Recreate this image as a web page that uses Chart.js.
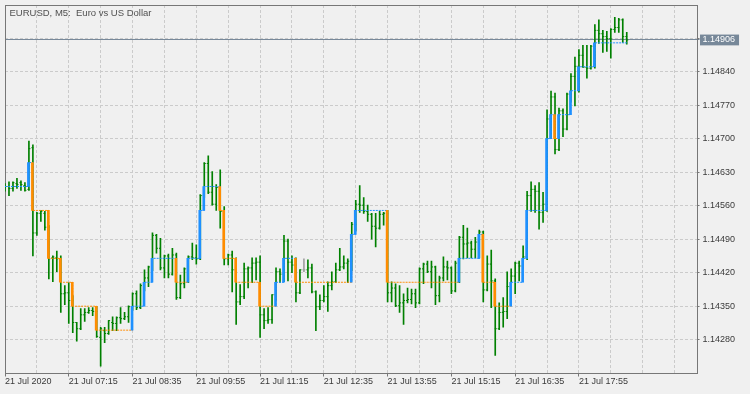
<!DOCTYPE html>
<html>
<head>
<meta charset="utf-8">
<title>EURUSD, M5</title>
<script src="https://cdn.jsdelivr.net/npm/chart.js@4.4.1/dist/chart.umd.min.js"></script>
<style>
  html, body { margin: 0; padding: 0; background: #f0f0f0; }
  canvas { display: block; }
</style>
</head>
<body>
<canvas id="chart" width="750" height="394"></canvas>
<script>
const symbolTitle = 'EURUSD, M5:  Euro vs US Dollar';

// M5 bars, 21 Jul 2020 05:55 .. 18:55
const opens = [
  1.14598, 1.14600, 1.14596, 1.14606, 1.14608, 1.14602, 1.14594, 1.14681, 1.14503, 1.14544,
  1.14544, 1.14515, 1.14451, 1.14451, 1.14449, 1.14376, 1.14378, 1.14362, 1.14316, 1.14303,
  1.14332, 1.14337, 1.14341, 1.14339, 1.14285, 1.14299, 1.14293, 1.14316, 1.14314, 1.14326,
  1.14324, 1.14328, 1.14349, 1.14376, 1.14347, 1.14393, 1.14409, 1.14432, 1.14498, 1.14471,
  1.14430, 1.14455, 1.14417, 1.14457, 1.14368, 1.14397, 1.14428, 1.14453, 1.14451, 1.14449,
  1.14581, 1.14648, 1.14588, 1.14563, 1.14598, 1.14548, 1.14449, 1.14457, 1.14426, 1.14359,
  1.14370, 1.14428, 1.14430, 1.14440, 1.14442, 1.14332, 1.14320, 1.14322, 1.14374, 1.14422,
  1.14417, 1.14486, 1.14442, 1.14436, 1.14378, 1.14426, 1.14426, 1.14430, 1.14380, 1.14349,
  1.14362, 1.14370, 1.14393, 1.14401, 1.14426, 1.14432, 1.14440, 1.14444, 1.14521, 1.14563,
  1.14561, 1.14548, 1.14542, 1.14517, 1.14513, 1.14542, 1.14544, 1.14378, 1.14388, 1.14351,
  1.14357, 1.14362, 1.14364, 1.14376, 1.14357, 1.14428, 1.14438, 1.14422, 1.14432, 1.14372,
  1.14409, 1.14432, 1.14430, 1.14382, 1.14440, 1.14494, 1.14480, 1.14482, 1.14469, 1.14484,
  1.14505, 1.14384, 1.14438, 1.14403, 1.14303, 1.14337, 1.14339, 1.14391, 1.14413, 1.14440,
  1.14434, 1.14453, 1.14581, 1.14594, 1.14590, 1.14546, 1.14563, 1.14741, 1.14787, 1.14677,
  1.14758, 1.14720, 1.14793, 1.14830, 1.14851, 1.14874, 1.14849, 1.14847, 1.14893, 1.14926,
  1.14919, 1.14913, 1.14909, 1.14928, 1.14932, 1.14948, 1.14913
];
const highs = [
  1.14606, 1.14610, 1.14610, 1.14617, 1.14612, 1.14608, 1.14695, 1.14687, 1.14546, 1.14550,
  1.14548, 1.14519, 1.14455, 1.14465, 1.14455, 1.14393, 1.14399, 1.14372, 1.14316, 1.14345,
  1.14345, 1.14347, 1.14347, 1.14349, 1.14306, 1.14306, 1.14320, 1.14328, 1.14328, 1.14347,
  1.14337, 1.14351, 1.14378, 1.14382, 1.14397, 1.14426, 1.14434, 1.14503, 1.14500, 1.14492,
  1.14457, 1.14459, 1.14471, 1.14461, 1.14415, 1.14430, 1.14455, 1.14482, 1.14478, 1.14583,
  1.14650, 1.14664, 1.14631, 1.14604, 1.14635, 1.14558, 1.14459, 1.14465, 1.14451, 1.14395,
  1.14440, 1.14432, 1.14451, 1.14451, 1.14455, 1.14345, 1.14347, 1.14374, 1.14430, 1.14428,
  1.14498, 1.14490, 1.14455, 1.14451, 1.14426, 1.14449, 1.14447, 1.14438, 1.14382, 1.14374,
  1.14393, 1.14401, 1.14422, 1.14440, 1.14471, 1.14455, 1.14449, 1.14525, 1.14571, 1.14602,
  1.14577, 1.14561, 1.14544, 1.14544, 1.14548, 1.14546, 1.14550, 1.14401, 1.14397, 1.14393,
  1.14376, 1.14388, 1.14386, 1.14386, 1.14430, 1.14440, 1.14444, 1.14444, 1.14434, 1.14413,
  1.14453, 1.14444, 1.14432, 1.14444, 1.14496, 1.14519, 1.14513, 1.14486, 1.14494, 1.14509,
  1.14507, 1.14455, 1.14467, 1.14407, 1.14357, 1.14368, 1.14422, 1.14428, 1.14442, 1.14444,
  1.14476, 1.14590, 1.14610, 1.14602, 1.14608, 1.14588, 1.14760, 1.14799, 1.14795, 1.14764,
  1.14762, 1.14795, 1.14836, 1.14870, 1.14886, 1.14895, 1.14895, 1.14895, 1.14938, 1.14948,
  1.14926, 1.14924, 1.14930, 1.14953, 1.14951, 1.14950, 1.14922
];
const lows = [
  1.14590, 1.14581, 1.14590, 1.14596, 1.14592, 1.14590, 1.14592, 1.14455, 1.14498, 1.14527,
  1.14509, 1.14407, 1.14401, 1.14422, 1.14337, 1.14353, 1.14314, 1.14295, 1.14277, 1.14301,
  1.14318, 1.14335, 1.14330, 1.14285, 1.14225, 1.14274, 1.14291, 1.14299, 1.14299, 1.14314,
  1.14322, 1.14316, 1.14341, 1.14343, 1.14345, 1.14382, 1.14391, 1.14424, 1.14461, 1.14426,
  1.14409, 1.14409, 1.14415, 1.14364, 1.14366, 1.14388, 1.14399, 1.14447, 1.14438, 1.14447,
  1.14577, 1.14585, 1.14561, 1.14550, 1.14513, 1.14436, 1.14436, 1.14380, 1.14312, 1.14353,
  1.14366, 1.14388, 1.14399, 1.14405, 1.14285, 1.14303, 1.14314, 1.14314, 1.14362, 1.14399,
  1.14401, 1.14403, 1.14420, 1.14359, 1.14376, 1.14422, 1.14409, 1.14378, 1.14299, 1.14343,
  1.14359, 1.14339, 1.14384, 1.14399, 1.14424, 1.14428, 1.14399, 1.14424, 1.14507, 1.14546,
  1.14544, 1.14527, 1.14490, 1.14474, 1.14511, 1.14519, 1.14359, 1.14359, 1.14349, 1.14337,
  1.14312, 1.14357, 1.14355, 1.14347, 1.14355, 1.14397, 1.14420, 1.14388, 1.14353, 1.14359,
  1.14403, 1.14405, 1.14376, 1.14380, 1.14399, 1.14449, 1.14451, 1.14451, 1.14451, 1.14451,
  1.14359, 1.14382, 1.14347, 1.14247, 1.14301, 1.14306, 1.14324, 1.14362, 1.14376, 1.14403,
  1.14428, 1.14447, 1.14548, 1.14546, 1.14511, 1.14525, 1.14548, 1.14700, 1.14668, 1.14675,
  1.14704, 1.14718, 1.14776, 1.14768, 1.14797, 1.14849, 1.14826, 1.14845, 1.14847, 1.14899,
  1.14880, 1.14882, 1.14868, 1.14922, 1.14922, 1.14901, 1.14897
];
const closes = [
  1.14600, 1.14596, 1.14608, 1.14604, 1.14604, 1.14592, 1.14679, 1.14503, 1.14544, 1.14548,
  1.14515, 1.14449, 1.14453, 1.14449, 1.14376, 1.14378, 1.14362, 1.14316, 1.14303, 1.14332,
  1.14337, 1.14341, 1.14339, 1.14287, 1.14303, 1.14293, 1.14320, 1.14314, 1.14326, 1.14324,
  1.14328, 1.14349, 1.14376, 1.14347, 1.14393, 1.14409, 1.14432, 1.14498, 1.14471, 1.14430,
  1.14455, 1.14417, 1.14457, 1.14368, 1.14397, 1.14428, 1.14453, 1.14451, 1.14449, 1.14581,
  1.14648, 1.14588, 1.14563, 1.14598, 1.14548, 1.14449, 1.14457, 1.14426, 1.14359, 1.14370,
  1.14428, 1.14430, 1.14440, 1.14442, 1.14332, 1.14320, 1.14322, 1.14374, 1.14422, 1.14417,
  1.14486, 1.14442, 1.14436, 1.14378, 1.14426, 1.14426, 1.14430, 1.14380, 1.14349, 1.14362,
  1.14370, 1.14393, 1.14401, 1.14426, 1.14432, 1.14440, 1.14444, 1.14521, 1.14563, 1.14561,
  1.14548, 1.14542, 1.14517, 1.14513, 1.14542, 1.14544, 1.14378, 1.14388, 1.14351, 1.14357,
  1.14362, 1.14364, 1.14376, 1.14357, 1.14428, 1.14438, 1.14422, 1.14432, 1.14372, 1.14409,
  1.14432, 1.14430, 1.14382, 1.14440, 1.14494, 1.14480, 1.14482, 1.14469, 1.14484, 1.14505,
  1.14384, 1.14438, 1.14403, 1.14303, 1.14337, 1.14339, 1.14391, 1.14413, 1.14440, 1.14434,
  1.14453, 1.14581, 1.14594, 1.14590, 1.14546, 1.14563, 1.14741, 1.14787, 1.14677, 1.14758,
  1.14720, 1.14793, 1.14830, 1.14851, 1.14874, 1.14849, 1.14847, 1.14893, 1.14926, 1.14919,
  1.14913, 1.14909, 1.14928, 1.14932, 1.14948, 1.14913, 1.14906
];

// time scale labels and the bar they sit on
const timeLabels = ['21 Jul 2020', '21 Jul 07:15', '21 Jul 08:35', '21 Jul 09:55', '21 Jul 11:15',
                    '21 Jul 12:35', '21 Jul 13:55', '21 Jul 15:15', '21 Jul 16:35', '21 Jul 17:55'];
const timeLabelBars = [0, 16, 32, 48, 64, 80, 96, 112, 128, 144];

const priceTicks = [1.14280, 1.14350, 1.14420, 1.14490, 1.14560, 1.14630, 1.14700, 1.14770, 1.14840, 1.14910];

// 5 pip renko line: bar where a new level starts, and that level
const brickBars = [0, 6, 7, 11, 14, 17, 23, 32, 35, 37,
                   43, 46, 49, 50, 54, 55, 58, 64, 68, 70,
                   73, 87, 88, 96, 114, 119, 120, 123, 127, 130,
                   131, 136, 137, 138, 139, 142, 144, 148];
const brickLevels = [1.14600, 1.14650, 1.14550, 1.14450, 1.14400, 1.14350, 1.14300, 1.14350, 1.14400, 1.14450,
                     1.14400, 1.14450, 1.14550, 1.14600, 1.14550, 1.14450, 1.14400, 1.14350, 1.14400, 1.14450,
                     1.14400, 1.14500, 1.14550, 1.14400, 1.14450, 1.14500, 1.14400, 1.14350, 1.14400, 1.14450,
                     1.14550, 1.14700, 1.14750, 1.14700, 1.14750, 1.14800, 1.14850, 1.14900];

const GREEN = '#008000', DOJI = '#a0a0a0', BLUE = '#1e90ff', ORANGE = '#ff8c00', BID = '#778899';
const GRID = '#cbcbcb', FRAME = '#777777', TEXT = '#3a3a3a';
const FONT = { family: 'Liberation Sans', size: 9 };

const lastPrice = closes[closes.length - 1];
const barColors = opens.map((o, i) => o === closes[i] ? DOJI : GREEN);

// level of the renko line on every bar, and whether it got there going up
const levels = [], ups = [];
let k = 0;
for (let i = 0; i < opens.length; i++) {
    while (k + 1 < brickBars.length && brickBars[k + 1] <= i) k++;
    levels.push(brickLevels[k]);
    ups.push(k === 0 || brickLevels[k] > brickLevels[k - 1]); // first brick came from below
}

const titlePlugin = {
    id: 'symbolTitle',
    afterDraw(chart) {
        const { ctx, chartArea } = chart;
        ctx.save();
        ctx.font = '9.5px "Liberation Sans"';
        ctx.fillStyle = '#505050';
        ctx.textBaseline = 'alphabetic';
        ctx.fillText(symbolTitle, chartArea.left + 4.5, chartArea.top + 10.7);
        ctx.restore();
    }
};

// keep the plot frame where it is, labels may hang over the edges
const noPad = s => { s.paddingTop = 0; s.paddingBottom = 0; s.paddingLeft = 0; s.paddingRight = 0; };

new Chart(document.getElementById('chart'), {
    type: 'bar',
    data: {
        datasets: [
            {
                // renko jumps
                type: 'bar',
                data: brickBars.slice(1).map((b, j) => ({ x: b - 0.125, y: [brickLevels[j], brickLevels[j + 1]] })),
                backgroundColor: brickBars.slice(1).map((b, j) => brickLevels[j + 1] > brickLevels[j] ? BLUE : ORANGE),
                barThickness: 2,
                grouped: false,
                order: 0
            },
            {
                // renko level, dotted
                type: 'line',
                data: levels.map((v, i) => ({ x: i, y: v })),
                stepped: true,
                borderWidth: 1,
                borderDash: [2, 1],
                pointRadius: 0,
                fill: false,
                segment: { borderColor: c => ups[c.p0DataIndex] ? BLUE : ORANGE },
                order: 1
            },
            {
                type: 'line',
                data: opens.map((v, i) => ({ x: i - 0.125, y: v })),
                showLine: false,
                pointStyle: 'line',
                pointRadius: 1,
                pointBorderWidth: 1,
                pointBorderColor: barColors,
                order: 2
            },
            {
                type: 'line',
                data: closes.map((v, i) => ({ x: i + 0.125, y: v })),
                showLine: false,
                pointStyle: 'line',
                pointRadius: 1,
                pointBorderWidth: 1,
                pointBorderColor: barColors,
                order: 2
            },
            {
                // high-low sticks
                type: 'bar',
                data: opens.map((o, i) => ({ x: i, y: [lows[i], highs[i]] })),
                backgroundColor: barColors,
                barThickness: 1,
                grouped: false,
                order: 3
            }
        ]
    },
    options: {
        responsive: false,
        animation: false,
        events: [],
        devicePixelRatio: 1,
        layout: { padding: { left: 2.5, top: 2.5, right: 0, bottom: 0 } },
        plugins: {
            legend: { display: false },
            tooltip: { enabled: false }
        },
        scales: {
            x: {
                type: 'linear',
                min: 0,
                max: 173.75,
                offset: false,
                afterBuildTicks: s => {
                    s.ticks = [];
                    for (let v = 0; v <= 168; v += 8) s.ticks.push({ value: v });
                },
                afterFit: s => { s.height = 20.5; noPad(s); },
                ticks: {
                    autoSkip: false,
                    maxRotation: 0,
                    align: 'start',
                    padding: 0,
                    color: TEXT,
                    font: FONT,
                    callback: v => {
                        const j = timeLabelBars.indexOf(v);
                        return j < 0 ? '' : timeLabels[j];
                    }
                },
                grid: {
                    offset: false,
                    color: c => c.tick && c.tick.value === 0 ? 'transparent' : GRID,
                    tickColor: c => c.tick && timeLabelBars.includes(c.tick.value) ? FRAME : 'transparent',
                    tickLength: 3,
                    tickBorderDash: []
                },
                border: { color: FRAME, dash: [3, 2] }
            },
            y: {
                type: 'linear',
                position: 'right',
                min: 1.142095,
                max: 1.14979,
                bounds: 'data',
                afterBuildTicks: s => {
                    s.ticks = priceTicks.concat([lastPrice]).map(v => ({ value: v }));
                },
                afterFit: s => { s.width = 52.5; noPad(s); },
                ticks: {
                    autoSkip: false,
                    padding: 3,
                    font: FONT,
                    color: c => c.tick && c.tick.value === lastPrice ? '#ffffff' : TEXT,
                    showLabelBackdrop: c => !!(c.tick && c.tick.value === lastPrice),
                    backdropColor: BID,
                    backdropPadding: { left: 2.5, right: 4, top: 0, bottom: 0 },
                    // the bid label covers any level next to it
                    callback: v => (v !== lastPrice && Math.abs(v - lastPrice) < 0.0002) ? '' : v.toFixed(5)
                },
                grid: {
                    color: c => c.tick && c.tick.value === lastPrice ? BID : GRID,
                    tickColor: c => c.tick && c.tick.value === lastPrice ? BID : FRAME,
                    tickLength: 2,
                    tickBorderDash: []
                },
                border: {
                    color: FRAME,
                    dash: c => c.tick && c.tick.value === lastPrice ? [] : [3, 2]
                }
            },
            yLeft: {
                type: 'linear',
                position: 'left',
                display: true,
                grid: { display: false, drawTicks: false },
                ticks: { display: false },
                border: { display: true, color: FRAME },
                afterFit: s => { s.width = 0; noPad(s); }
            },
            xTop: {
                type: 'linear',
                position: 'top',
                display: true,
                grid: { display: false, drawTicks: false },
                ticks: { display: false },
                border: { display: true, color: FRAME },
                afterFit: s => { s.height = 0; noPad(s); }
            }
        }
    },
    plugins: [titlePlugin]
});
</script>
</body>
</html>
